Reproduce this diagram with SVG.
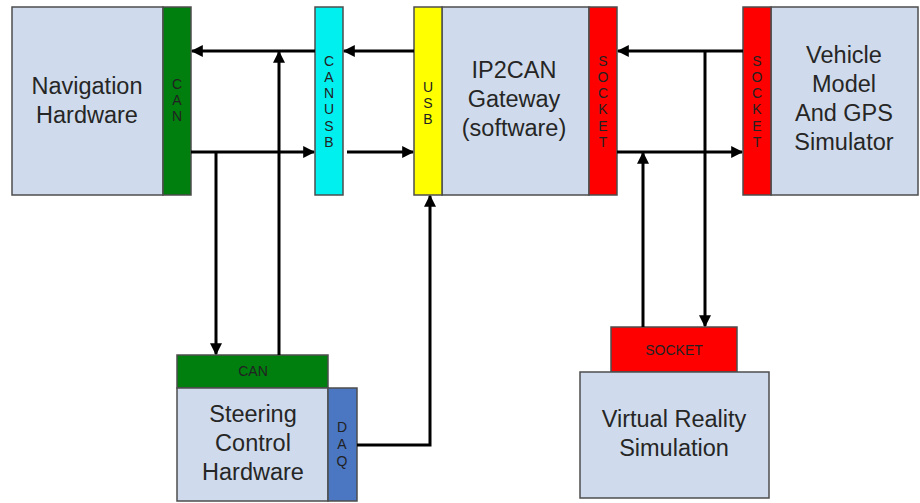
<svg xmlns="http://www.w3.org/2000/svg" width="920" height="503" viewBox="0 0 920 503">
  <style>
    .body { fill: #cfdbec; stroke: #4d4d4d; stroke-width: 1.5; }
    .can { fill: #007f0e; stroke: #4d4d4d; stroke-width: 1.5; }
    .usbc { fill: #00f0f0; stroke: #4d4d4d; stroke-width: 1.5; }
    .usb { fill: #ffff00; stroke: #4d4d4d; stroke-width: 1.5; }
    .sock { fill: #ff0000; stroke: #4d4d4d; stroke-width: 1.5; }
    .daq { fill: #4a76c2; stroke: #4d4d4d; stroke-width: 1.5; }
    .lbl { font-family: "Liberation Sans", Arial, sans-serif; font-size: 23.5px; fill: #262626; text-anchor: middle; }
    .tag { font-family: "Liberation Sans", Arial, sans-serif; font-size: 14px; fill: #222; text-anchor: middle; }
    .wire { fill: none; stroke: #000; stroke-width: 3; }
  </style>
  <defs>
    <marker id="arrow" viewBox="0 0 10 10" refX="9" refY="5" markerWidth="4" markerHeight="4" orient="auto" markerUnits="strokeWidth">
      <path d="M0,0 L10,5 L0,10 z" fill="#000"/>
    </marker>
  </defs>

  <g id="navigation-hardware">
    <rect class="body" x="12" y="7" width="151" height="188"/>
    <rect class="can" x="163" y="7" width="28" height="188"/>
    <text class="lbl" x="87" y="94">Navigation</text>
    <text class="lbl" x="87" y="123">Hardware</text>
    <text class="tag" x="177" y="89">C</text>
    <text class="tag" x="177" y="105">A</text>
    <text class="tag" x="177" y="121">N</text>
  </g>

  <g id="canusb">
    <rect class="usbc" x="315" y="7" width="28" height="188"/>
    <text class="tag" x="329" y="66">C</text>
    <text class="tag" x="329" y="82">A</text>
    <text class="tag" x="329" y="98">N</text>
    <text class="tag" x="329" y="114">U</text>
    <text class="tag" x="329" y="131">S</text>
    <text class="tag" x="329" y="147">B</text>
  </g>

  <g id="ip2can-gateway">
    <rect class="body" x="442" y="7" width="147" height="188"/>
    <rect class="usb" x="414" y="7" width="28" height="188"/>
    <rect class="sock" x="589" y="7" width="28" height="188"/>
    <text class="lbl" x="514" y="78">IP2CAN</text>
    <text class="lbl" x="514" y="107">Gateway</text>
    <text class="lbl" x="514" y="136">(software)</text>
    <text class="tag" x="428" y="92">U</text>
    <text class="tag" x="428" y="108">S</text>
    <text class="tag" x="428" y="124">B</text>
    <text class="tag" x="603" y="66">S</text>
    <text class="tag" x="603" y="82">O</text>
    <text class="tag" x="603" y="98">C</text>
    <text class="tag" x="603" y="114">K</text>
    <text class="tag" x="603" y="131">E</text>
    <text class="tag" x="603" y="147">T</text>
  </g>

  <g id="vehicle-model">
    <rect class="body" x="771" y="7" width="147" height="188"/>
    <rect class="sock" x="743" y="7" width="28" height="188"/>
    <text class="lbl" x="844" y="63">Vehicle</text>
    <text class="lbl" x="844" y="92">Model</text>
    <text class="lbl" x="844" y="121">And GPS</text>
    <text class="lbl" x="844" y="150">Simulator</text>
    <text class="tag" x="757" y="66">S</text>
    <text class="tag" x="757" y="82">O</text>
    <text class="tag" x="757" y="98">C</text>
    <text class="tag" x="757" y="114">K</text>
    <text class="tag" x="757" y="131">E</text>
    <text class="tag" x="757" y="147">T</text>
  </g>

  <g id="steering-control">
    <rect class="can" x="177" y="355" width="151" height="33"/>
    <rect class="body" x="177" y="388" width="151" height="113"/>
    <rect class="daq" x="328" y="388" width="29" height="113"/>
    <text class="tag" x="253" y="376">CAN</text>
    <text class="lbl" x="253" y="422">Steering</text>
    <text class="lbl" x="253" y="451">Control</text>
    <text class="lbl" x="253" y="480">Hardware</text>
    <text class="tag" x="342" y="432">D</text>
    <text class="tag" x="342" y="449">A</text>
    <text class="tag" x="342" y="466">Q</text>
  </g>

  <g id="virtual-reality">
    <rect class="sock" x="611" y="327" width="126" height="45"/>
    <rect class="body" x="580" y="372" width="189" height="126"/>
    <text class="tag" x="674" y="355">SOCKET</text>
    <text class="lbl" x="674" y="427">Virtual Reality</text>
    <text class="lbl" x="674" y="456">Simulation</text>
  </g>

  <g id="connectors">
    <!-- CANUSB <-> navigation CAN -->
    <path class="wire" d="M315,51 L192,51" marker-end="url(#arrow)"/>
    <path class="wire" d="M191,152 L314,152" marker-end="url(#arrow)"/>
    <path class="wire" d="M216,152 L216,354" marker-end="url(#arrow)"/>
    <path class="wire" d="M279,355 L279,52" marker-end="url(#arrow)"/>
    <!-- USB <-> CANUSB -->
    <path class="wire" d="M414,51 L344,51" marker-end="url(#arrow)"/>
    <path class="wire" d="M347,152 L413,152" marker-end="url(#arrow)"/>
    <!-- DAQ -> USB -->
    <path class="wire" d="M357,445 L430,445 L430,196" marker-end="url(#arrow)"/>
    <!-- sockets -->
    <path class="wire" d="M743,51 L618,51" marker-end="url(#arrow)"/>
    <path class="wire" d="M617,152 L742,152" marker-end="url(#arrow)"/>
    <path class="wire" d="M705,51 L705,326" marker-end="url(#arrow)"/>
    <path class="wire" d="M643,327 L643,153" marker-end="url(#arrow)"/>
  </g>
</svg>
